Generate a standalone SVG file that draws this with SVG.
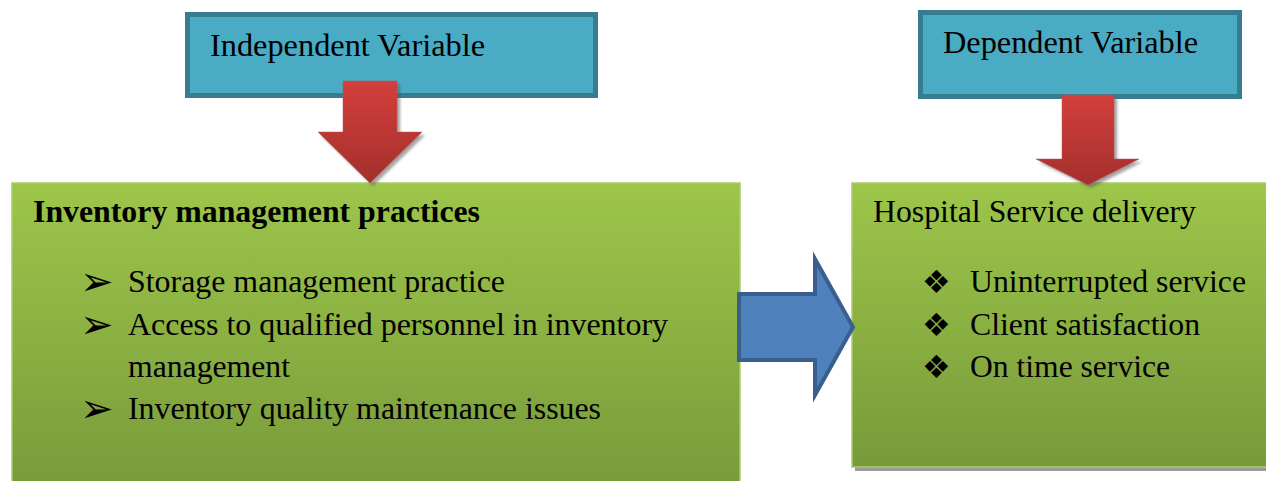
<svg xmlns="http://www.w3.org/2000/svg" width="1266" height="481" viewBox="0 0 1266 481">
<defs>
<linearGradient id="green" x1="0" y1="0" x2="0" y2="1">
<stop offset="0" stop-color="#9dc64a"/>
<stop offset="1" stop-color="#789a3a"/>
</linearGradient>
<linearGradient id="red" x1="0" y1="0" x2="0" y2="1">
<stop offset="0" stop-color="#d33f3c"/>
<stop offset="1" stop-color="#a3302c"/>
</linearGradient>
<filter id="blur" x="-20%" y="-20%" width="140%" height="140%"><feGaussianBlur stdDeviation="1.5"/></filter>
</defs>
<style>
.var{fill:#4aabc5;stroke:#367d8f;stroke-width:5}
.grn{fill:url(#green);stroke:#a9cc6b;stroke-width:1.5}
.t{font-size:32px;fill:#000}
.b{font-weight:bold}
.arw{font-size:40px;fill:#000}
.dia{font-size:32px;fill:#000}
.redarrow{fill:url(#red);stroke:#c0504d;stroke-width:0.5}
.shadow{fill:#555;opacity:0.55;filter:url(#blur)}
.blue{fill:#4f81bd;stroke:#3a5f8e;stroke-width:4;stroke-linejoin:miter}
</style>
<g id="independent">
<rect class="var" x="187.5" y="14.5" width="408" height="81"/>
<text class="t" font-family="Liberation Serif, serif" x="210" y="56" textLength="275" lengthAdjust="spacingAndGlyphs">Independent Variable</text>
</g>
<g id="dependent">
<rect class="var" x="920.5" y="12.5" width="319" height="84"/>
<text class="t" font-family="Liberation Serif, serif" x="943" y="53" textLength="255" lengthAdjust="spacingAndGlyphs">Dependent Variable</text>
</g>
<g id="inventory">
<rect class="grn" x="12" y="183" width="728" height="310"/>
<g font-family="Liberation Serif, serif">
<text class="t b" x="33" y="222" textLength="447" lengthAdjust="spacingAndGlyphs">Inventory management practices</text>
<text class="t" x="128" y="292" textLength="377" lengthAdjust="spacingAndGlyphs">Storage management practice</text>
<text class="t" x="128" y="335" textLength="540" lengthAdjust="spacingAndGlyphs">Access to qualified personnel in inventory</text>
<text class="t" x="128" y="377" textLength="162" lengthAdjust="spacingAndGlyphs">management</text>
<text class="t" x="128" y="419" textLength="473" lengthAdjust="spacingAndGlyphs">Inventory quality maintenance issues</text>
</g>
<g font-family="DejaVu Sans, sans-serif">
<text class="arw" x="80" y="295">➢</text>
<text class="arw" x="80" y="338">➢</text>
<text class="arw" x="80" y="422">➢</text>
</g>
</g>
<g id="hospital">
<rect x="855" y="186" width="420" height="285" fill="#9a9a9a"/>
<rect class="grn" x="852" y="183" width="420" height="284"/>
<g font-family="Liberation Serif, serif">
<text class="t" x="873" y="222" textLength="323" lengthAdjust="spacingAndGlyphs">Hospital Service delivery</text>
<text class="t" x="970" y="292" textLength="276" lengthAdjust="spacingAndGlyphs">Uninterrupted service</text>
<text class="t" x="970" y="335" textLength="230" lengthAdjust="spacingAndGlyphs">Client satisfaction</text>
<text class="t" x="970" y="377" textLength="200" lengthAdjust="spacingAndGlyphs">On time service</text>
</g>
<g font-family="DejaVu Sans, sans-serif">
<text class="dia" x="922" y="293">❖</text>
<text class="dia" x="922" y="336">❖</text>
<text class="dia" x="922" y="378">❖</text>
</g>
</g>
<g id="connectors">
<polygon class="shadow" points="346,84 400,84 400,135 425,135 373,186 321,135 346,135"/>
<polygon class="redarrow" points="343,81 397,81 397,132 422,132 370,183 318,132 343,132"/>
<polygon class="shadow" points="1065,98 1117,98 1117,162 1142,162 1091,188 1039,162 1065,162"/>
<polygon class="redarrow" points="1062,95 1114,95 1114,159 1139,159 1088,185 1036,159 1062,159"/>
<polygon class="blue" points="739,294 815,294 815,259 853,327 815,395 815,360 739,360"/>
</g>
</svg>
